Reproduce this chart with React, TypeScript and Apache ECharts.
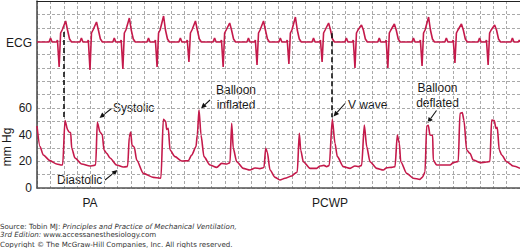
import React, { useEffect, useRef } from "react";
import * as echarts from "echarts";

// Time in ms (one grid cell = 200 ms), pressure in mmHg
const PA_TIME = [0,45,94,194,294,368,383,417,458,477,502,517,566,666,790,854,875,899,939,973,999,1039,1088,1188,1286,1337,1352,1376,1397,1416,1450,1486,1585,1734,1834,1848,1883,1918,1933,1957,1983,2057,2157,2255,2306,2370,2390,2415,2445,2489,2579,2679,2753,2828,2877,2902,2926,2977,3075,3175,3250,3324,3364,3384,3409,3433,3473,3548,3622,3697,3797,3846,3880,3910,3931,3970,4070,4169,4219,4278,4318,4357,4402,4442,4477,4566,4666,4740,4790,4840,4879,4915,4964,5064,5162,5213,5287,5337,5371,5401,5422,5511,5610,5709,5744,5784,5809,5833,5858,5898,5907,5958,6056,6157,6206,6280,6305,6340,6365,6405,6454,6503,6604,6703,6752,6777,6816,6842,6861,6891,6927,7001,7100,7200];
const PA_PRESSURE = [46.5,31,24.7,20.5,18,17.2,17.5,50.5,43.5,42,41.5,30,22.5,18,16.5,17,17.5,49.3,42,40,28.5,26,22.5,17.2,15.7,16,16.5,38.5,42,32,30.7,21,11,8,7.3,7.8,51.5,50,44,44.7,28.5,23.5,20.2,20.5,24.7,31,40,58.5,39.7,23.5,17.2,15.5,18.5,18,19,48.5,29.7,19.7,14.7,13.5,15,14.5,15,15.5,29.7,27,13.5,8,6,7.3,9,11,12,41,28.5,19.7,14.7,14.7,16.5,17,16,17,51.5,33.5,23.5,16,14.7,16.5,16,17,47.2,31,19.7,14.7,13.5,15.2,15.5,16,39.7,33.5,19.7,11,7.3,6.5,8,12,46.5,47,39.7,39.5,21,17.2,17.2,17.2,19,20,56,56.5,50.5,28.5,26,21,19,19.5,20,51,50.5,44.7,45.5,28.5,24.7,19.7,16.5,14.7];

// ECG beats: time of the sharp downward deflection (ms), peak height and trough depth (mV)
const ECG_BEAT_TIME = [330,790,1280,1790,2265,2775,3280,3755,4250,4740,5230,5740,6230,6725,7215];
const ECG_PEAK = [1.05,1.0,1.2,1.3,1.05,0.95,1.05,1.25,0.95,0.85,0.9,1.25,0.9,0.85,0.9];
const ECG_TROUGH = [-1.25,-1.4,-1.35,-1.25,-1.0,-1.25,-1.15,-1.1,-1.0,-1.3,-1.3,-1.2,-1.05,-1.15,-1.1];
// beat shape: [offset ms, mV]; "trough"/"peak" = that beat's own value
const BEAT_SHAPE_T = [-210,-150,-128,-105,-40,-25,0,22,45,97,125,155,185];
const BEAT_SHAPE_V: (number | string)[] = [0,0,0.2,0,0,0.1,"trough",0.45,0.6,"peak",0.6,0.15,0];

const T_MAX = 7200;
const CELL = 200;
const P_MAX = 140.25;

const DASHED_MARKERS = [
  { t: 400, top: 117, bottom: 51 },
  { t: 4400, top: 116, bottom: 53 },
];

const RED = "#c41a4b";
const FONT = "Liberation Sans, Arial, Helvetica, sans-serif";
const FOOT_FONT = "DejaVu Sans, Verdana, sans-serif";

function buildEcg(): [number, number][] {
  const pts: [number, number][] = [[0, 0]];
  ECG_BEAT_TIME.forEach((bt, i) => {
    BEAT_SHAPE_T.forEach((dt, k) => {
      const t = bt + dt;
      if (t <= 0 || t > T_MAX) return;
      const s = BEAT_SHAPE_V[k];
      const v = s === "trough" ? ECG_TROUGH[i] : s === "peak" ? ECG_PEAK[i] : (s as number);
      pts.push([t, v]);
    });
  });
  pts.push([T_MAX, 0]);
  return pts;
}

function arrow(x1: number, y1: number, x2: number, y2: number) {
  const a = Math.atan2(y2 - y1, x2 - x1);
  const L = 5.5, W = 2.6;
  const bx = x2 - L * Math.cos(a), by = y2 - L * Math.sin(a);
  return {
    type: "group",
    children: [
      { type: "line", shape: { x1, y1, x2: bx, y2: by }, style: { stroke: "#111", lineWidth: 1.1 } },
      {
        type: "polygon",
        shape: {
          points: [
            [x2, y2],
            [bx + W * Math.sin(a), by - W * Math.cos(a)],
            [bx - W * Math.sin(a), by + W * Math.cos(a)],
          ],
        },
        style: { fill: "#111" },
      },
    ],
  };
}

function label(text: string, x: number, y: number, align = "left", size = 12) {
  return {
    type: "text",
    x,
    y,
    style: {
      text,
      fontSize: size,
      fontFamily: FONT,
      fill: "#1a1a1a",
      align,
      verticalAlign: "middle",
      textAlign: align,
      textVerticalAlign: "middle",
    },
  };
}

export default function App() {
  const ref = useRef<HTMLDivElement>(null);
  useEffect(() => {
    if (!ref.current) return;
    const chart = echarts.init(ref.current, null, { renderer: "svg" });
    const pa = PA_TIME.map((t, i) => [t, PA_PRESSURE[i]]);
    const ecg = buildEcg();
    const footRich = {
      n: { fontSize: 7.1, fontFamily: FOOT_FONT, fill: "#333" },
      i: { fontSize: 7.1, fontFamily: FOOT_FONT, fill: "#333", fontStyle: "italic" },
    };
    chart.setOption({
      animation: false,
      grid: { left: 37, right: 0, top: 1, bottom: 60 },
      xAxis: [
        {
          type: "value",
          min: 0,
          max: T_MAX,
          interval: CELL,
          axisLabel: { show: false },
          axisTick: { show: false },
          axisLine: { show: true, lineStyle: { color: "#555", width: 1.5 } },
          splitLine: { show: true, lineStyle: { color: "#a9a9a9", type: [3, 2], width: 1 } },
        },
        {
          type: "value",
          position: "top",
          min: 0,
          max: T_MAX,
          axisLabel: { show: false },
          axisTick: { show: false },
          axisLine: { show: true, onZero: false, lineStyle: { color: "#222", width: 1.2 } },
          splitLine: { show: false },
        },
      ],
      yAxis: [
        {
          type: "value",
          min: 0,
          max: P_MAX,
          interval: 10,
          axisLine: { show: true, lineStyle: { color: "#444", width: 1.5 } },
          axisTick: { show: false },
          axisLabel: {
            margin: 5,
            fontSize: 12,
            fontFamily: FONT,
            color: "#1a1a1a",
            formatter: (v: number) => (v <= 60 && v % 20 === 0 ? String(v) : ""),
          },
          splitLine: { show: true, lineStyle: { color: "#a9a9a9", type: [3, 2], width: 1 } },
        },
        {
          type: "value",
          min: -7.3,
          max: 2.05,
          show: false,
          splitLine: { show: false },
        },
      ],
      series: [
        {
          type: "line",
          name: "ECG",
          yAxisIndex: 1,
          data: ecg,
          showSymbol: false,
          lineStyle: { color: RED, width: 1.6 },
          silent: true,
        },
        {
          type: "line",
          name: "Pressure",
          yAxisIndex: 0,
          data: pa,
          showSymbol: false,
          smooth: 0.25,
          smoothMonotone: "x",
          lineStyle: { color: RED, width: 1.6 },
          silent: true,
          markLine: {
            silent: true,
            symbol: ["none", "none"],
            label: { show: false },
            lineStyle: { color: "#111", type: [5, 3], width: 1.6 },
            data: DASHED_MARKERS.map((m) => [
              { coord: [m.t, m.top] },
              { coord: [m.t, m.bottom] },
            ]),
          },
        },
      ],
      graphic: [
        label("ECG", 32, 42.5, "right"),
        {
          type: "text",
          x: 7,
          y: 147,
          rotation: Math.PI / 2,
          style: {
            text: "mm Hg",
            fontSize: 12,
            fontFamily: FONT,
            fill: "#1a1a1a",
            align: "center",
            verticalAlign: "middle",
            textAlign: "center",
            textVerticalAlign: "middle",
          },
        },
        label("Systolic", 113, 107.5),
        arrow(111.5, 108.5, 99.5, 118),
        label("Diastolic", 57, 180),
        arrow(105, 180, 117.5, 170),
        label("Balloon", 236, 90, "center"),
        label("inflated", 236, 104.5, "center"),
        arrow(210, 100, 201, 108.5),
        label("V wave", 348, 105),
        arrow(345, 103.5, 333.5, 116.5),
        label("Balloon", 437.5, 88, "center"),
        label("deflated", 437.5, 102.5, "center"),
        arrow(436.5, 110.5, 427.5, 123),
        label("PA", 90, 203, "center"),
        label("PCWP", 330, 203, "center"),
        {
          type: "text",
          x: 0,
          y: 226,
          style: {
            text: "{n|Source: Tobin MJ: }{i|Principles and Practice of Mechanical Ventilation,}",
            rich: footRich,
            verticalAlign: "middle",
            textVerticalAlign: "middle",
          },
        },
        {
          type: "text",
          x: 0,
          y: 234,
          style: {
            text: "{i|3rd Edition:}{n| www.accessanesthesiology.com}",
            rich: footRich,
            verticalAlign: "middle",
            textVerticalAlign: "middle",
          },
        },
        {
          type: "text",
          x: 0,
          y: 244,
          style: {
            text: "{n|Copyright \u00a9 The McGraw-Hill Companies, Inc. All rights reserved.}",
            rich: footRich,
            verticalAlign: "middle",
            textVerticalAlign: "middle",
          },
        },
      ],
    });
    return () => chart.dispose();
  }, []);
  return (
    <div
      ref={ref}
      style={{ position: "fixed", left: 0, top: 0, width: 520, height: 248, background: "#fff" }}
    />
  );
}
